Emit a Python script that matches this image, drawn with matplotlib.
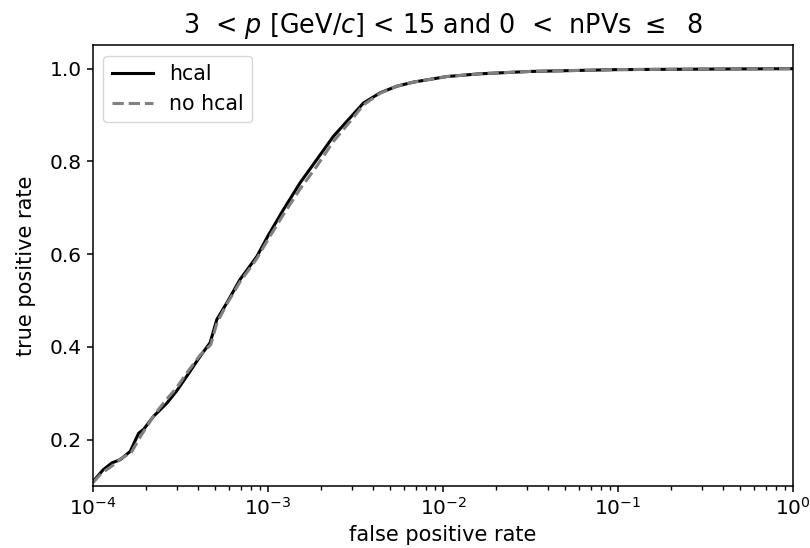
import matplotlib
matplotlib.use('Agg')
import matplotlib.pyplot as plt

# ROC curves (false positive rate, true positive rate)
fpr_hcal = [1.0e-4, 1.14e-4, 1.28e-4, 1.43e-4, 1.63e-4, 1.82e-4, 1.94e-4,
            2.21e-4, 2.64e-4, 3.0e-4, 3.43e-4, 4.09e-4, 4.66e-4, 5.09e-4,
            5.81e-4, 6.9e-4, 8.62e-4, 1.0e-3, 1.223e-3, 1.524e-3, 1.898e-3,
            2.36e-3, 2.94e-3, 3.51e-3, 4.37e-3, 5.43e-3, 6.76e-3, 1.05e-2,
            1.63e-2, 3.14e-2, 1.0e-1, 3.0e-1, 1.0]
tpr_hcal = [0.110, 0.135, 0.150, 0.157, 0.175, 0.214, 0.222,
            0.250, 0.279, 0.305, 0.337, 0.380, 0.409, 0.459,
            0.495, 0.545, 0.595, 0.640, 0.696, 0.754, 0.804,
            0.854, 0.894, 0.926, 0.948, 0.962, 0.971, 0.983,
            0.989, 0.994, 0.998, 0.999, 1.0]

fpr_nohcal = [1.0e-4, 1.12e-4, 1.3e-4, 1.45e-4, 1.65e-4, 1.85e-4, 2.0e-4,
              2.25e-4, 2.6e-4, 3.0e-4, 3.4e-4, 4.1e-4, 4.7e-4, 5.1e-4,
              5.8e-4, 6.9e-4, 8.6e-4, 1.0e-3, 1.22e-3, 1.52e-3, 1.9e-3,
              2.36e-3, 2.94e-3, 3.51e-3, 4.37e-3, 5.43e-3, 6.76e-3, 1.05e-2,
              1.63e-2, 3.14e-2, 1.0e-1, 3.0e-1, 1.0]
tpr_nohcal = [0.108, 0.128, 0.145, 0.160, 0.172, 0.205, 0.225,
              0.255, 0.285, 0.312, 0.342, 0.383, 0.405, 0.452,
              0.492, 0.540, 0.590, 0.632, 0.685, 0.740, 0.790,
              0.843, 0.886, 0.922, 0.947, 0.962, 0.971, 0.983,
              0.989, 0.994, 0.998, 0.999, 1.0]

fig, ax = plt.subplots(figsize=(8.1, 5.48), dpi=100)
fig.subplots_adjust(left=0.115, right=0.979, top=0.917, bottom=0.113)

ax.plot(fpr_hcal, tpr_hcal, 'k-', lw=2.2, label='hcal')
ax.plot(fpr_nohcal, tpr_nohcal, '--', color='gray', lw=2.2, label='no hcal')

ax.set_xscale('log')
ax.set_xlim(1e-4, 1)
ax.set_ylim(0.1, 1.05)
ax.set_xlabel('false positive rate', fontsize=15, labelpad=4)
ax.set_ylabel('true positive rate', fontsize=15, labelpad=10)
ax.set_title(r'3  < $p$ [GeV/$c$] < 15 and 0  <  nPVs $\leq$  8',
             fontsize=18.4, pad=9)
ax.tick_params(labelsize=14.5, width=1.1, length=4.5)
ax.tick_params(which='minor', width=1.0, length=2.6)
for s in ax.spines.values():
    s.set_linewidth(1.1)
ax.legend(loc='upper left', fontsize=14.8)

plt.savefig('out.png', dpi=100)
